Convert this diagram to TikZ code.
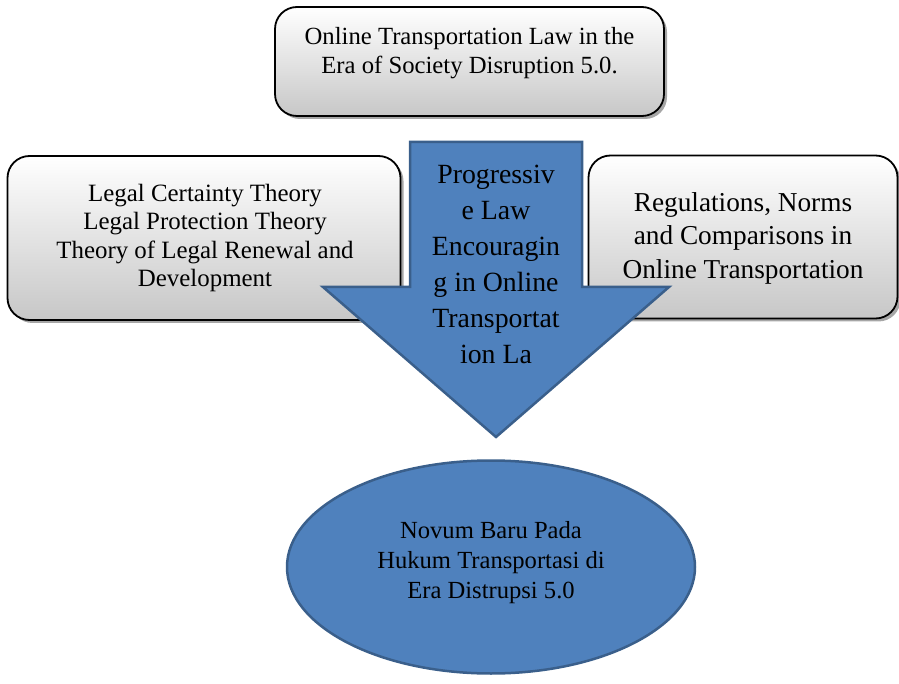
\documentclass[tikz,border=0pt]{standalone}
\usepackage{fontspec}
\setmainfont{Liberation Serif}
\usetikzlibrary{shadows}
\definecolor{arrowblue}{HTML}{4F81BD}
\definecolor{arrowedge}{HTML}{3A5F8B}
\begin{document}
\begin{tikzpicture}[x=1pt,y=-1pt,
  graybox/.style={draw=black, line width=1.8pt, rounded corners=22pt,
    top color=white, bottom color=black!22,
    drop shadow={shadow xshift=3pt, shadow yshift=-3pt, opacity=0.35, fill=black}},
  txt/.style={align=center, text=black, inner sep=0pt},
  bluefill/.style={fill=arrowblue, draw=arrowedge, line width=2.5pt}]
\useasboundingbox (0,0) rectangle (899,684);
% top box
\node[graybox, minimum width=389pt, minimum height=109pt, inner sep=0pt] (topbox) at (469.5,61.5) {};
\node[txt, font=\fontsize{24.7}{29}\selectfont] (toptext) at (469.5,53) {Online Transportation Law in the\\Era of Society Disruption 5.0.};
% left box
\node[graybox, minimum width=393pt, minimum height=164pt, inner sep=0pt] (leftbox) at (204,238) {};
\node[txt, font=\fontsize{24.9}{28.5}\selectfont] (lefttext) at (205,238) {Legal Certainty Theory\\Legal Protection Theory\\Theory of Legal Renewal and\\Development};
% right box
\node[graybox, minimum width=309pt, minimum height=163pt, inner sep=0pt] (rightbox) at (743,237) {};
\node[txt, font=\fontsize{27.3}{33.5}\selectfont] (righttext) at (743,238) {Regulations, Norms\\and Comparisons in\\Online Transportation};
% big arrow
\draw[bluefill, line join=miter] (410,142) coordinate (a1) -- (582,142) -- (582,287) -- (669,287) -- (496,437) coordinate (tip) -- (323,287) -- (410,287) -- cycle;
\node[txt, font=\fontsize{27.8}{36}\selectfont] (arrowtext) at (496,264) {Progressiv\\e Law\\Encouragin\\g in Online\\Transportat\\ion La};
% ellipse
\draw[bluefill] (491,567) ellipse [x radius=204, y radius=106.5];
\node[txt, font=\fontsize{24.6}{30}\selectfont] (elltext) at (491,563) {Novum Baru Pada\\Hukum Transportasi di\\Era Distrupsi 5.0};
\end{tikzpicture}
\end{document}
